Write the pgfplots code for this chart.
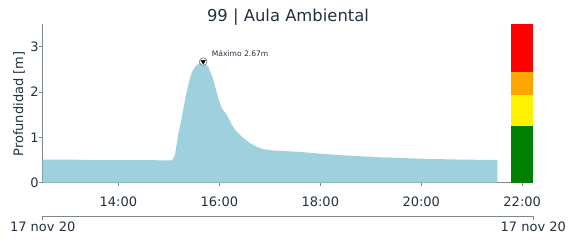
\documentclass[border=0pt]{standalone}
\usepackage{pgfplots}
\pgfplotsset{compat=1.18}
\usepackage{fontspec}
\setmainfont{DejaVu Sans}
\definecolor{txt}{RGB}{36,48,64}
\definecolor{spine}{RGB}{125,135,145}
\definecolor{fillc}{RGB}{158,208,222}
\definecolor{myorange}{RGB}{255,165,0}
\definecolor{mygreen}{RGB}{0,128,0}
\begin{document}
\begin{tikzpicture}[x=1pt,y=1pt]
\path[use as bounding box] (0,0) rectangle (569,240);
\begin{axis}[
  at={(42.7pt,57.3pt)}, anchor=south west, scale only axis,
  width=490.6pt, height=158.7pt,
  xmin=12.5, xmax=22.22, ymin=0, ymax=3.5,
  axis x line*=bottom, axis y line*=left,
  axis line style={spine, line width=0.8pt, -},
  xtick={14,16,18,20,22}, xticklabels={14:00,16:00,18:00,20:00,22:00},
  ytick={0,1,2,3},
  tick style={spine, line width=0.8pt}, tick align=outside, major tick length=3.5pt,
  ticklabel style={font=\fontsize{13}{13}\selectfont, text=txt},
  /pgf/number format/assume math mode=true,
  xticklabel style={anchor=base, yshift=-20pt},
  yticklabel style={anchor=east, xshift=3pt},
  clip=false,
]
% depth series
\addplot[fill=fillc, draw=none] coordinates {
(12.50,0.51) (13.00,0.51) (13.50,0.50) (14.00,0.50) (14.50,0.50) (15.00,0.49)
(15.06,0.49) (15.12,0.61) (15.19,1.09) (15.26,1.46) (15.32,1.83) (15.39,2.19)
(15.45,2.42) (15.52,2.56) (15.62,2.65) (15.68,2.67) (15.78,2.56) (15.88,2.27)
(15.98,1.86) (16.05,1.64) (16.15,1.49) (16.25,1.27) (16.34,1.13) (16.48,0.98)
(16.61,0.87) (16.74,0.79) (16.87,0.74) (17.07,0.71) (17.40,0.69) (17.59,0.68)
(17.99,0.64) (18.52,0.60) (19.18,0.56) (19.97,0.53) (20.77,0.51) (21.51,0.50)
} \closedcycle;
% alert levels
\addplot[fill=mygreen, draw=none] coordinates {(21.78,0) (22.22,0) (22.22,1.24) (21.78,1.24)} --cycle;
\addplot[fill=yellow, draw=none] coordinates {(21.78,1.24) (22.22,1.24) (22.22,1.94) (21.78,1.94)} --cycle;
\addplot[fill=myorange, draw=none] coordinates {(21.78,1.94) (22.22,1.94) (22.22,2.44) (21.78,2.44)} --cycle;
\addplot[fill=red, draw=none] coordinates {(21.78,2.44) (22.22,2.44) (22.22,3.5) (21.78,3.5)} --cycle;
% maximum marker
\addplot[only marks, mark=*, mark size=3.8pt, mark options={fill=white, draw=gray, line width=0.7pt}] coordinates {(15.68,2.67)};
\addplot[only marks, mark=triangle*, mark size=2.5pt, mark options={fill=black, draw=black, rotate=180}] coordinates {(15.68,2.67)};
\node[anchor=west, text=txt, font=\fontsize{7.6}{8}\selectfont] at (axis cs:15.78,2.86) {Máximo 2.67m};
\end{axis}
\node[anchor=base, text=txt, font=\fontsize{16.4}{17}\selectfont] at (288,218.6) {99 | Aula Ambiental};
\node[rotate=90, text=txt, font=\fontsize{13}{13}\selectfont] at (19,136) {Profundidad [m]};
\draw[spine, line width=0.8pt] (42.7,20) -- (42.7,23.3) -- (533.3,23.3) -- (533.3,20);
\node[anchor=base, text=txt, font=\fontsize{13}{13}\selectfont] at (42.7,8.5) {17 nov 20};
\node[anchor=base, text=txt, font=\fontsize{13}{13}\selectfont] at (533.3,8.5) {17 nov 20};
\end{tikzpicture}
\end{document}
